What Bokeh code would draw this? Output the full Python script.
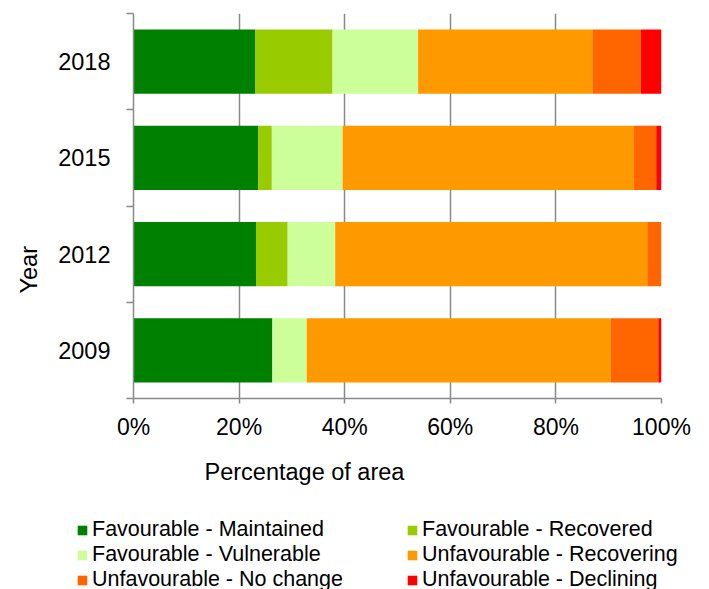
from bokeh.plotting import figure
from bokeh.layouts import column
from bokeh.models import (Range1d, FixedTicker, PrintfTickFormatter, Legend, LegendItem,
                          Title, ColumnDataSource)
from bokeh.embed import file_html
from bokeh.resources import INLINE

# ---- data (percentage of area) ----
years = ["2009", "2012", "2015", "2018"]
fav_maintained = [26.3, 23.2, 23.6, 23.1]
fav_recovered = [0.0, 6.0, 2.6, 14.6]
fav_vulnerable = [6.5, 9.0, 13.4, 16.2]
unf_recovering = [57.6, 59.1, 55.2, 33.0]
unf_no_change = [9.0, 2.7, 4.2, 9.2]
unf_declining = [0.6, 0.0, 1.0, 3.9]

series_labels = ["Favourable - Maintained", "Favourable - Recovered",
                 "Favourable - Vulnerable", "Unfavourable - Recovering",
                 "Unfavourable - No change", "Unfavourable - Declining"]
series_colors = ["#008000", "#99CC00", "#CCFF99", "#FF9900", "#FF6600", "#FF0000"]
x_ticks = [0, 20, 40, 60, 80, 100]

keys = ["s0", "s1", "s2", "s3", "s4", "s5"]
series = [fav_maintained, fav_recovered, fav_vulnerable,
          unf_recovering, unf_no_change, unf_declining]

data = {"y": [i + 0.5 for i in range(len(years))]}
for k, s in zip(keys, series):
    data[k] = s
src = ColumnDataSource(data)

FONT = "Liberation Sans"
GRAY = "#898989"

# ---------------- main chart ----------------
p = figure(width=709, height=500, output_backend="svg", toolbar_location=None,
           x_range=Range1d(0, 100), y_range=Range1d(0, len(years)),
           min_border_left=133, min_border_right=48, min_border_top=13,
           min_border_bottom=102)
p.outline_line_color = None
p.background_fill_color = "white"
p.border_fill_color = "white"

renderers = p.hbar_stack(keys, y="y", height=0.665, fill_color=series_colors,
                         line_color=None, source=src)

p.ygrid.visible = False
p.xgrid.grid_line_color = GRAY
p.xgrid.grid_line_width = 1.5

xa = p.xaxis[0]
xa.ticker = FixedTicker(ticks=x_ticks)
xa.formatter = PrintfTickFormatter(format="%d%%")
xa.axis_line_color = GRAY
xa.axis_line_width = 1.5
xa.major_tick_line_color = GRAY
xa.major_tick_line_width = 1.5
xa.major_tick_in = 0
xa.major_tick_out = 5
xa.minor_tick_line_color = None
xa.major_label_standoff = 10
xa.major_label_text_font = FONT
xa.major_label_text_font_size = "23px"
xa.major_label_text_color = "black"

ya = p.yaxis[0]
ya.ticker = FixedTicker(ticks=[i + 0.5 for i in range(len(years))],
                        minor_ticks=list(range(len(years) + 1)))
ya.major_label_overrides = {i + 0.5: y for i, y in enumerate(years)}
ya.axis_line_color = GRAY
ya.axis_line_width = 1.5
ya.major_tick_line_color = None
ya.major_tick_in = 0
ya.major_tick_out = 0
ya.minor_tick_line_color = GRAY
ya.minor_tick_line_width = 1.5
ya.minor_tick_in = 0
ya.minor_tick_out = 7
ya.major_label_standoff = 16
ya.major_label_text_font = FONT
ya.major_label_text_font_size = "23.5px"
ya.major_label_text_color = "black"

t_x = Title(text="Percentage of area", align="left", offset=71, standoff=28,
            text_font=FONT, text_font_size="23.5px", text_font_style="normal",
            text_color="black")
p.add_layout(t_x, "below")
t_y = Title(text="Year", align="left", offset=105, standoff=27,
            text_font=FONT, text_font_size="23.5px", text_font_style="normal",
            text_color="black")
p.add_layout(t_y, "left")

# ---------------- legend strip ----------------
p2 = figure(width=709, height=89, output_backend="svg", toolbar_location=None,
            x_range=Range1d(0, 1), y_range=Range1d(0, 1), min_border=0,
            x_axis_type=None, y_axis_type=None)
p2.outline_line_color = None
p2.background_fill_color = "white"
p2.border_fill_color = "white"
leg_renderers = p2.hbar_stack(keys, y="y", height=0.665, fill_color=series_colors,
                              line_color=None, source=src)
for r in leg_renderers:
    r.visible = False

if "frame_align" in p.properties():
    p.frame_align = False
    p2.frame_align = False

legend = Legend(items=[LegendItem(label=l, renderers=[r])
                       for l, r in zip(series_labels, leg_renderers)],
                orientation="horizontal", ncols=2, location=(76, -3),
                glyph_width=12, glyph_height=12, label_standoff=4,
                label_width=314, spacing=0, padding=0, margin=0,
                border_line_color=None, background_fill_alpha=0,
                label_text_font=FONT, label_text_font_size="21.5px",
                label_text_color="black")
p2.add_layout(legend)

open("out.html", "w").write(file_html(column(p, p2, spacing=0), INLINE))
